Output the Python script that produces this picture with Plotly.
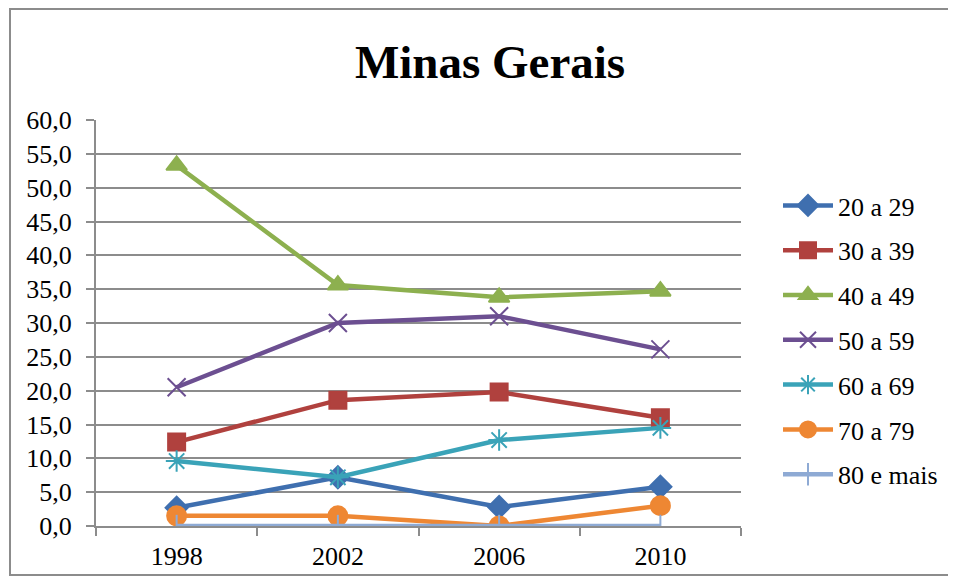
import plotly.graph_objects as go

# election years and share per age group (%)
anos = ["1998", "2002", "2006", "2010"]
faixa_20_29 = [2.7, 7.2, 2.8, 5.8]
faixa_30_39 = [12.4, 18.6, 19.8, 16.0]
faixa_40_49 = [53.3, 35.6, 33.8, 34.7]
faixa_50_59 = [20.5, 30.0, 31.0, 26.1]
faixa_60_69 = [9.6, 7.2, 12.7, 14.5]
faixa_70_79 = [1.5, 1.5, 0.0, 3.0]
faixa_80_mais = [0.0, 0.0, 0.0, 0.0]
y_ticks = [0, 5, 10, 15, 20, 25, 30, 35, 40, 45, 50, 55, 60]

series = [
    ("20 a 29", faixa_20_29, "#3F6FAF", "diamond", 17),
    ("30 a 39", faixa_30_39, "#B0413E", "square", 17),
    ("40 a 49", faixa_40_49, "#8DB04F", "triangle-up", 18),
    ("50 a 59", faixa_50_59, "#6C4F91", "x-thin-open", 18),
    ("60 a 69", faixa_60_69, "#3AA3B8", "asterisk-open", 18),
    ("70 a 79", faixa_70_79, "#EE8733", "circle", 19),
    ("80 e mais", faixa_80_mais, "#8EAAD4", "line-ns-open", 16),
]

fig = go.Figure()
for i, (nome, vals, cor, simbolo, tam) in enumerate(series):
    fig.add_trace(go.Scatter(
        x=anos, y=vals, name=nome, mode="lines+markers",
        legendgroup=str(i),
        line=dict(color=cor, width=4.5),
        marker=dict(symbol=simbolo, size=tam, color=cor,
                    line=dict(color=cor, width=2)),
    ))

serif = "Times New Roman"
# page body has an 8px margin, so pull everything up/left by 8px
off = 8
L, T, R, B = 96 - off, 120 - off, 741 - off, 526 - off
W = R - L
H = B - T

fig.update_layout(
    width=956, height=581,
    margin=dict(l=L, r=956 - R, t=T, b=581 - B),
    paper_bgcolor="white", plot_bgcolor="white",
    font=dict(family=serif, color="black", size=26),
    title=dict(text="<b>Minas Gerais</b>", x=(490 - off) / 956, xanchor="center",
               y=1 - (62 - off) / 581, yanchor="middle",
               font=dict(family=serif, size=47, color="black")),
    showlegend=True,
    legend=dict(x=(778 - off - L) / W, xanchor="left",
                y=(B - (340 - off)) / H, yanchor="middle",
                font=dict(family=serif, size=26, color="black"),
                tracegroupgap=8, itemwidth=50, bgcolor="rgba(0,0,0,0)"),
    xaxis=dict(type="category", range=[-0.5, 3.5], showgrid=False, showline=True,
               linecolor="#8C8C8C", linewidth=2, ticks="outside",
               tickson="boundaries", ticklen=8, tickcolor="#8C8C8C",
               tickwidth=2, ticklabelstandoff=6,
               tickfont=dict(size=26, family=serif, color="black")),
    yaxis=dict(range=[0, 60], tickvals=y_ticks,
               ticktext=[f"{v:.1f}".replace(".", ",") for v in y_ticks],
               showgrid=True, gridcolor="#8C8C8C", gridwidth=2,
               showline=True, linecolor="#8C8C8C", linewidth=2,
               ticks="outside", ticklen=8, tickcolor="#8C8C8C", tickwidth=2,
               ticklabelstandoff=9, zeroline=False,
               tickfont=dict(size=26, family=serif, color="black")),
    shapes=[dict(type="rect", xref="paper", yref="paper",
                 x0=(10 - off - L) / W, x1=(950 - off - L) / W,
                 y0=(B - (575 - off)) / H, y1=(B - (8 - off + 1)) / H,
                 line=dict(color="#8C8C8C", width=2), layer="below")],
)

fig.write_html("out.html")
